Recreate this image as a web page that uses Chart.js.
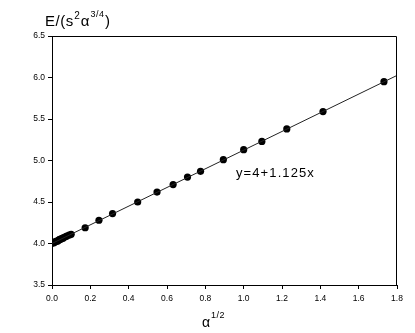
<!DOCTYPE html>
<html>
<head>
<meta charset="utf-8">
<script src="https://cdn.jsdelivr.net/npm/chart.js@4"></script>
<style>
  html, body { margin: 0; padding: 0; background: #fff; }
  #wrap { width: 415px; height: 333px; }
</style>
</head>
<body>
<div id="wrap"><canvas id="graph" width="415" height="333"></canvas></div>
<script>
// measured points, x = alpha^(1/2), y = E/(s^2 alpha^(3/4))
var sqrtAlpha = [0, 0.01, 0.014, 0.02, 0.024, 0.03, 0.035, 0.04, 0.045, 0.05, 0.055, 0.06, 0.07, 0.077, 0.089, 0.1,
                 0.173, 0.245, 0.316, 0.447, 0.548, 0.632, 0.707, 0.775, 0.894, 1.0, 1.095, 1.225, 1.414, 1.732];
var energy = [4.00, 4.01, 4.02, 4.02, 4.03, 4.03, 4.04, 4.05, 4.05, 4.06, 4.06, 4.07, 4.08, 4.09, 4.10, 4.11,
              4.19, 4.28, 4.36, 4.50, 4.62, 4.71, 4.80, 4.87, 5.01, 5.13, 5.23, 5.38, 5.59, 5.95];
// fitted line y = 4 + 1.125x, end points
var fitX = [0, 1.8];
var fitY = [4.0, 6.025];
var fitLabel = 'y=4+1.125x';

var xTicks = [0, 0.2, 0.4, 0.6, 0.8, 1.0, 1.2, 1.4, 1.6, 1.8];
var yTicks = [3.5, 4.0, 4.5, 5.0, 5.5, 6.0, 6.5];

var FONT = '"Liberation Sans", Arial, sans-serif';

function supText(ctx, parts, x, y) {
    // parts: [text, size, raise]
    parts.forEach(function(p) {
        ctx.font = p[1] + 'px ' + FONT;
        ctx.fillText(p[0], x, y - p[2]);
        x += ctx.measureText(p[0]).width + 0.5;
    });
}

var extras = {
    id: 'extras',
    afterDraw: function(chart) {
        var ctx = chart.ctx;
        var a = chart.chartArea;
        var xs = chart.scales.x, ys = chart.scales.y;
        ctx.save();
        ctx.strokeStyle = '#000';
        ctx.lineWidth = 1;
        ctx.beginPath();
        ctx.moveTo(a.left, a.top + 0.5);
        ctx.lineTo(a.right - 0.5, a.top + 0.5);
        ctx.lineTo(a.right - 0.5, a.bottom);
        ctx.stroke();

        ctx.fillStyle = '#000';
        ctx.textBaseline = 'alphabetic';
        ctx.textAlign = 'left';
        ctx.letterSpacing = '0.5px';
        supText(ctx, [['E/(s', 15, 0], ['2', 10, 7], ['\u03b1', 15, 0], ['3/4', 9, 9], [')', 15, 0]], 45, 26);
        supText(ctx, [['\u03b1', 14, 0], ['1/2', 9, 9]], 202, 327);

        ctx.font = '13px ' + FONT;
        ctx.letterSpacing = '1.1px';
        ctx.fillText(fitLabel, xs.getPixelForValue(0.96), ys.getPixelForValue(4.80));
        ctx.restore();
    }
};

var ctx = document.getElementById('graph');
new Chart(ctx, {
    type: 'scatter',
    data: {
        datasets: [
            {
                label: 'fit',
                type: 'line',
                data: fitX.map(function(v, i) { return {x: v, y: fitY[i]}; }),
                borderColor: '#222',
                borderWidth: 1,
                pointRadius: 0,
                fill: false
            },
            {
                label: 'data',
                data: sqrtAlpha.map(function(v, i) { return {x: v, y: energy[i]}; }),
                backgroundColor: '#000',
                borderColor: '#000',
                pointRadius: 3.6,
                borderWidth: 0
            }
        ]
    },
    options: {
        responsive: false,
        animation: false,
        devicePixelRatio: 1,
        layout: { padding: { left: 0, top: 36, right: 18, bottom: 0 } },
        plugins: {
            legend: { display: false },
            tooltip: { enabled: false }
        },
        scales: {
            x: {
                type: 'linear',
                min: 0, max: 1.8,
                afterFit: function(s) { s.height = 48; },
                afterBuildTicks: function(s) { s.ticks = xTicks.map(function(v) { return {value: v}; }); },
                border: { color: '#000', width: 1 },
                grid: { drawOnChartArea: false, tickLength: 4, color: '#000' },
                ticks: {
                    padding: 5,
                    color: '#000',
                    font: { size: 8.5, family: FONT },
                    callback: function(v) { return v.toFixed(1); }
                }
            },
            y: {
                type: 'linear',
                min: 3.5, max: 6.5,
                afterFit: function(s) { s.width = 52; },
                afterBuildTicks: function(s) { s.ticks = yTicks.map(function(v) { return {value: v}; }); },
                border: { color: '#000', width: 1 },
                grid: { drawOnChartArea: false, tickLength: 4, color: '#000' },
                ticks: {
                    padding: 3,
                    color: '#000',
                    font: { size: 8.5, family: FONT },
                    callback: function(v) { return v.toFixed(1); }
                }
            }
        }
    },
    plugins: [extras]
});
</script>
</body>
</html>
